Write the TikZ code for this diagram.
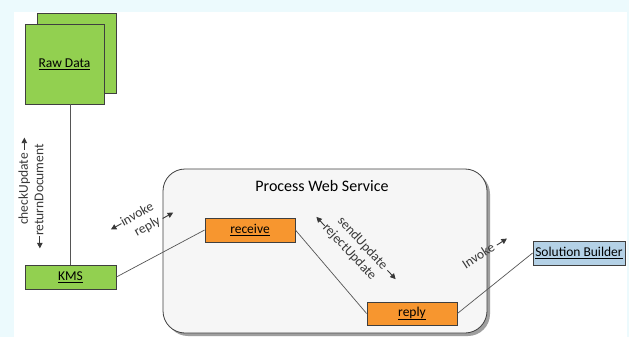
\documentclass[tikz,border=0pt]{standalone}
\usepackage{fontspec}
\setmainfont{Carlito}
\usetikzlibrary{arrows.meta}
\definecolor{pagecyan}{HTML}{ECFAFD}
\definecolor{rawgreen}{HTML}{92D050}
\definecolor{taskorange}{HTML}{F7962F}
\definecolor{builderblue}{HTML}{B4D1E6}
\definecolor{boxedge}{HTML}{3F3F3F}
\definecolor{wirecol}{HTML}{555555}
\definecolor{labelcol}{HTML}{383838}
\definecolor{poolfill}{HTML}{F6F6F6}
% small inline direction arrows used inside the message labels
\newcommand{\msgright}{\tikz[baseline=-0.55ex]\draw[labelcol,line width=0.9pt,-{Triangle[length=5.5pt,width=5.5pt]}] (0pt,0pt)--(12pt,0pt);}
\newcommand{\msgleft}{\tikz[baseline=-0.55ex]\draw[labelcol,line width=0.9pt,{Triangle[length=5.5pt,width=5.5pt]}-] (0pt,0pt)--(12pt,0pt);}
\begin{document}
\begin{tikzpicture}[x=1pt,y=-1pt,
  every node/.style={font=\fontsize{13.5}{15}\selectfont},
  actbox/.style={draw=boxedge,line width=0.8pt,inner sep=0pt,text=black},
  wire/.style={draw=wirecol,line width=0.7pt},
  msg/.style={text=labelcol,inner sep=0pt,align=left,font=\fontsize{13.5}{15.5}\selectfont}]
% page
\useasboundingbox (0,0) rectangle (629,337);
\fill[pagecyan] (0,0) rectangle (629,337);
\fill[white] (14,12) rectangle (627,337);

% process container with its shadow
\fill[rounded corners=22pt,gray!75] (166,172) rectangle (490,336);
\draw[rounded corners=22pt,fill=poolfill,draw=boxedge,line width=0.8pt] (163,169) rectangle (487,333);
\node[text=black,font=\fontsize{16}{18}\selectfont] (pws) at (322,186) {Process Web Service};

% data store (stacked pages)
\node[actbox,fill=rawgreen,minimum width=79pt,minimum height=80pt] (rawback) at (76.5,53) {};
\node[actbox,fill=rawgreen,minimum width=79pt,minimum height=80pt] (raw) at (64.5,64) {\underline{Raw Data}};

% activities
\node[actbox,fill=rawgreen,minimum width=91pt,minimum height=24pt] (kms) at (70.5,277) {\underline{KMS}};
\node[actbox,fill=taskorange,minimum width=90pt,minimum height=24pt] (recv) at (250,230) {\underline{receive}};
\node[actbox,fill=taskorange,minimum width=90pt,minimum height=23pt] (rply) at (412,313.5) {\underline{reply}};
\node[actbox,fill=builderblue,minimum width=92pt,minimum height=24pt] (sb) at (579,253) {\underline{Solution Builder}};

% connectors
\draw[wire] (raw.south -| kms.north) -- (kms.north);
\draw[wire] (kms.east) -- (recv.west);
\draw[wire] (recv.east) -- (rply.west);
\draw[wire] (rply.east) -- (sb.west);

% message labels (request above, response below)
\node[msg,rotate=90] (docmsg) at (31,193) {\hspace*{24pt}checkUpdate \msgright\\\msgleft returnDocument};
\node[msg,rotate=29] (invmsg) at (142,221) {\msgleft invoke\\\hspace*{20pt}reply \msgright};
\node[msg,rotate=-47] (updmsg) at (356,248) {\hspace*{18pt}sendUpdate \msgright\\\msgleft rejectUpdate};
\node[msg,rotate=33] (sbmsg) at (485,251.5) {Invoke \msgright};
\end{tikzpicture}
\end{document}
